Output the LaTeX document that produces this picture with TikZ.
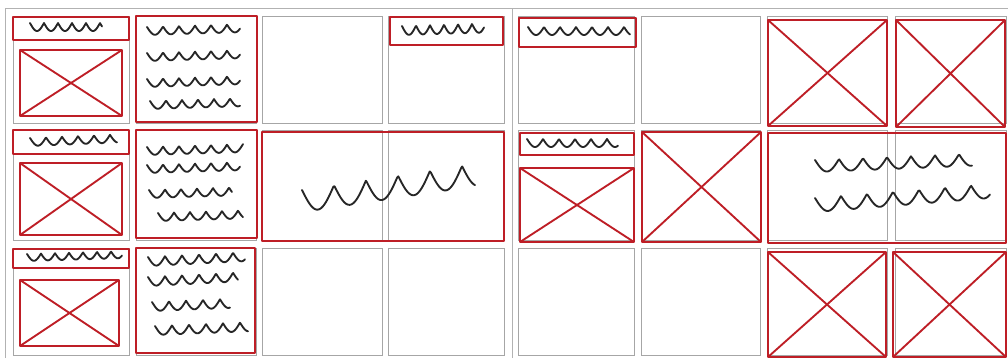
\documentclass[tikz,border=0pt]{standalone}
\begin{document}
\begin{tikzpicture}[x=0.75pt,y=-0.75pt,
  cell/.style={draw=gray!70,line width=0.6pt},
  frame/.style={draw=gray!60,line width=0.5pt},
  redbox/.style={draw=sketchred,line width=2.1pt,line join=round},
  redx/.style={draw=sketchred,line width=1.4pt},
  ink/.style={draw=black!85,line width=1.4pt,line cap=round,line join=round}]
\definecolor{sketchred}{RGB}{190,30,38}
\useasboundingbox[fill=white] (0,0) rectangle (1008,358);
% page frame
\draw[frame] (5,358) -- (5,8) -- (1008,8);
\draw[frame] (512,8) -- (512,358);
% grid cells
\foreach \xa/\xb in {13/129,136/256,262/382,388/504,518/634,641/760,767/887,895/1006}{
  \foreach \ya/\yb in {16/123,130/240,248/355}{
    \draw[cell] (\xa,\ya) rectangle (\xb,\yb);
  }
}
% squiggle macro
\newcommand{\squig}[6]{% x1 x2 y slope amp period
  \draw[ink] plot[domain=#1:#2,samples=150] (\x,{#3+#4*(\x-#1)+#5*abs(sin((\x-#1)/#6*180))});}
\newcommand{\imgbox}[4]{%
  \draw[redbox] (#1,#2) rectangle (#3,#4);
  \draw[redx] (#1,#2) -- (#3,#4) (#1,#4) -- (#3,#2);}
% ---- Row 1
\draw[redbox] (13,17) rectangle (129,40);
\squig{30}{102}{23}{0.0}{8}{14}
\imgbox{20}{50}{122}{116}
\draw[redbox] (136,16) rectangle (257,122);
\squig{147}{240}{27}{-0.03}{8}{16}
\squig{147}{240}{53}{-0.03}{8}{16}
\squig{147}{240}{79}{-0.03}{8}{16}
\squig{150}{240}{101}{-0.03}{8}{16}
\draw[redbox] (390,17) rectangle (503,45);
\squig{402}{484}{26}{-0.03}{9}{14}
\draw[redbox] (519,18) rectangle (636,47);
\squig{528}{630}{27}{0.0}{8}{16}
\imgbox{768}{20}{887}{126}
\imgbox{896}{20}{1005}{127}
% ---- Row 2
\draw[redbox] (13,130) rectangle (129,154);
\squig{30}{117}{138}{-0.04}{8}{16}
\imgbox{20}{163}{122}{235}
\draw[redbox] (136,130) rectangle (257,238);
\squig{147}{243}{147}{-0.03}{8}{16}
\squig{147}{240}{165}{-0.03}{8}{16}
\squig{149}{232}{190}{-0.03}{8}{16}
\squig{158}{243}{213}{-0.03}{8}{16}
\draw[redbox] (262,132) rectangle (504,241);
\squig{302}{475}{190}{-0.15}{22}{32}
\draw[redbox] (520,133) rectangle (634,155);
\squig{527}{618}{139}{0.0}{8}{16}
\imgbox{520}{168}{634}{242}
\imgbox{642}{132}{761}{242}
\draw[redbox] (768,133) rectangle (1006,243);
\squig{815}{972}{160}{-0.04}{12}{24}
\squig{815}{990}{198}{-0.08}{14}{26}
% ---- Row 3
\draw[redbox] (13,249) rectangle (129,268);
\squig{27}{122}{254}{-0.03}{7}{14}
\imgbox{20}{280}{119}{346}
\draw[redbox] (136,248) rectangle (255,353);
\squig{148}{245}{257}{-0.05}{9}{17}
\squig{148}{238}{277}{-0.05}{9}{17}
\squig{152}{230}{302}{-0.04}{9}{17}
\squig{155}{248}{326}{-0.04}{9}{17}
\imgbox{768}{252}{886}{357}
\imgbox{893}{252}{1006}{357}
\end{tikzpicture}
\end{document}
